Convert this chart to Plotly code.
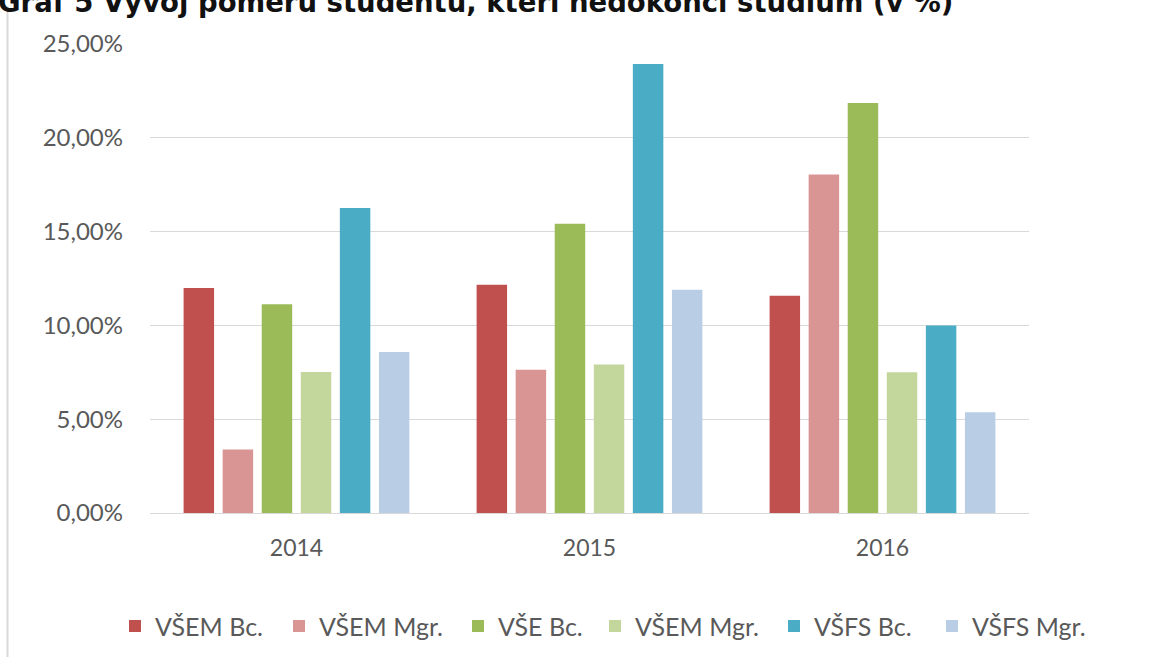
import plotly.graph_objects as go

years = ["2014", "2015", "2016"]
series_names = ["VŠEM Bc.", "VŠEM Mgr.", "VŠE Bc.", "VŠEM Mgr.", "VŠFS Bc.", "VŠFS Mgr."]
vsem_bc = [12.00, 12.17, 11.58]
vsem_mgr = [3.38, 7.64, 18.04]
vse_bc = [11.13, 15.42, 21.86]
vsem_mgr2 = [7.51, 7.92, 7.50]
vsfs_bc = [16.26, 23.94, 10.00]
vsfs_mgr = [8.58, 11.90, 5.37]
series_values = [vsem_bc, vsem_mgr, vse_bc, vsem_mgr2, vsfs_bc, vsfs_mgr]
colors = ["#C0504D", "#D99594", "#9BBB59", "#C3D69B", "#4BACC6", "#B9CDE5"]
y_ticks = [0, 5, 10, 15, 20, 25]
y_tick_labels = [f"{v:.2f}".replace(".", ",") + "%" for v in y_ticks]
title_text = "Graf 5 Vývoj poměru studentů, kteří nedokončí studium (v %)"

# layout: left pixel of each legend entry's swatch
legend_left_px = [130, 294, 473, 610, 789, 947]

W, H = 1176, 657
L, R, T, B = 150, 147, 43.5, 143.5
pw, ph = W - L - R, H - T - B

def px(x):
    return (x - L) / pw

def py(y):
    return (H - B - y) / ph

FONT = "Lato"
GRAY = "#595959"

fig = go.Figure()
legend_layouts = {}
for i, (name, vals, col) in enumerate(zip(series_names, series_values, colors)):
    lg = "legend" if i == 0 else f"legend{i + 1}"
    fig.add_trace(go.Bar(x=years, y=vals, name=name, legend=lg,
                         marker=dict(color=col, line=dict(width=0)), hoverinfo="skip"))
    legend_layouts[lg] = dict(orientation="h", x=px(legend_left_px[i] - 15), xanchor="left",
                              y=py(627), yanchor="middle",
                              font=dict(family=FONT, size=25, color=GRAY),
                              itemwidth=30, bgcolor="rgba(0,0,0,0)")

fig.update_layout(
    width=W, height=H,
    margin=dict(l=L, r=R, t=T, b=B, autoexpand=False),
    paper_bgcolor="white", plot_bgcolor="white",
    barmode="group", bargap=0.2, bargroupgap=0.22,
    font=dict(family=FONT, color=GRAY, size=23),
    showlegend=True,
    xaxis=dict(showgrid=False, showline=False, ticks="", ticklabelstandoff=19,
               tickfont=dict(family=FONT, size=23, color=GRAY)),
    yaxis=dict(range=[0, 25], tickvals=y_ticks, ticktext=y_tick_labels,
               showgrid=True, gridcolor="#D9D9D9", gridwidth=1, zeroline=True,
               zerolinecolor="#D9D9D9", zerolinewidth=1, showline=False, ticks="",
               ticklabelstandoff=26, tickfont=dict(family=FONT, size=24, color=GRAY)),
    **legend_layouts,
)

fig.add_shape(type="line", xref="paper", yref="paper", x0=px(7.5), x1=px(7.5),
              y0=py(H + 5), y1=py(6), line=dict(color="#D9D9D9", width=2), layer="below")

fig.add_annotation(text="<b>" + title_text + "</b>", xref="paper", yref="paper",
                   x=px(-4), y=py(19), xanchor="left", yanchor="bottom", showarrow=False,
                   font=dict(family="DejaVu Sans", size=27.5, color="#111111"))

fig.write_html("out.html", post_script="document.body.style.margin='0';",
               config={"displayModeBar": False})
